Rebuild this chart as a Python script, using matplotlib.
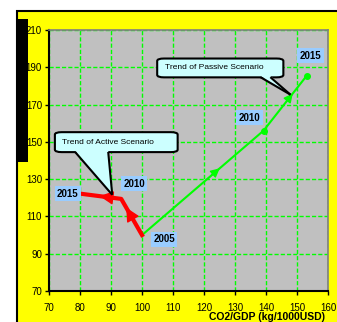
import matplotlib
matplotlib.use("Agg")
import matplotlib.pyplot as plt
from matplotlib.patches import Rectangle, FancyBboxPatch, Polygon

plt.rcParams['font.family'] = ['Liberation Sans', 'DejaVu Sans']

# ---- data ----
years = ['2005', '2010', '2015']
passive_x = [100, 139.2, 153.1]
passive_y = [100, 156.0, 185.4]
active_x = [100, 93.3, 80.6]
active_y = [100, 119.4, 122.1]
x_ticks = [70, 80, 90, 100, 110, 120, 130, 140, 150, 160]
y_ticks = [70, 90, 110, 130, 150, 170, 190, 210]
x_label = 'CO2/GDP (kg/1000USD)'
passive_text = 'Trend of Passive Scenario'
active_text = 'Trend of Active Scenario'

fig = plt.figure(figsize=(3.37, 3.22), dpi=100, facecolor='white')
# yellow frame with black border
fig.patches.append(Rectangle((17/337, -0.01), 1.0, (322-11)/322 + 0.01,
                             transform=fig.transFigure, facecolor='#FFFF00',
                             edgecolor='black', linewidth=1.5, zorder=-2))
# black bar on the left
fig.patches.append(Rectangle((17/337, (322-162)/322), 11/337, (162-19)/322,
                             transform=fig.transFigure, facecolor='black',
                             edgecolor='none', zorder=-1))

ax = fig.add_axes([49/337, 1-291/322, (328-49)/337, (291-30)/322])
ax.set_zorder(1)
ax.set_facecolor('#C0C0C0')
ax.set_xlim(70, 160)
ax.set_ylim(70, 210)
ax.set_xticks(x_ticks)
ax.set_yticks(y_ticks)
ax.tick_params(labelsize=7, length=3, width=1, pad=2, direction='out')
ax.tick_params(axis='x', pad=5.5)
for s in ['left', 'bottom']:
    ax.spines[s].set_linewidth(1.5)
for s in ['top', 'right']:
    ax.spines[s].set_color('#808080')
    ax.spines[s].set_linewidth(1.2)
ax.grid(True, color='#00FF00', linestyle=(0, (3, 1.5)), linewidth=1)
ax.set_axisbelow(True)

# passive (green)
ax.plot(passive_x, passive_y, color='#00FF00', linewidth=1.5, zorder=3)
ax.plot(passive_x[1:], passive_y[1:], 'o', color='#00FF00', markersize=4, zorder=3)
# active (red)
ax.plot(active_x, active_y, color='#FF0000', linewidth=3, zorder=4)


def seg_arrows(xs, ys, color, fracs, scale):
    for i in range(len(xs) - 1):
        f = fracs[i]
        x0, y0 = xs[i], ys[i]
        x1, y1 = xs[i + 1], ys[i + 1]
        tx, ty = x0 + (x1 - x0) * f, y0 + (y1 - y0) * f
        sx, sy = x0 + (x1 - x0) * (f - 0.1), y0 + (y1 - y0) * (f - 0.1)
        ax.annotate('', xy=(tx, ty), xytext=(sx, sy),
                    arrowprops=dict(arrowstyle='-|>,head_length=0.6,head_width=0.3',
                                    color=color, lw=1,
                                    mutation_scale=scale, shrinkA=0, shrinkB=0),
                    zorder=5)


seg_arrows(passive_x, passive_y, '#00FF00', [0.64, 0.68], 9)
seg_arrows(active_x, active_y, '#FF0000', [0.76, 0.55], 14)

label_bbox = dict(boxstyle='square,pad=0.25', facecolor='#99CCFF', edgecolor='none')
lbl = dict(fontsize=7, fontweight='bold', textcoords='offset pixels',
           ha='center', va='center', bbox=label_bbox, zorder=6)
ax.annotate(years[0], (passive_x[0], passive_y[0]), xytext=(22, -4), **lbl)
ax.annotate(years[1], (passive_x[1], passive_y[1]), xytext=(-14, 13), **lbl)
ax.annotate(years[2], (passive_x[2], passive_y[2]), xytext=(4, 20), **lbl)
ax.annotate(years[1], (active_x[1], active_y[1]), xytext=(13, 15), **lbl)
ax.annotate(years[2], (active_x[2], active_y[2]), xytext=(-14, 0), **lbl)


def callout(x0, y0, x1, y1, base_l, base_r, tip, text, tx):
    box = FancyBboxPatch((x0, y0), x1 - x0, y1 - y0,
                         boxstyle='round,pad=0,rounding_size=2.2',
                         mutation_aspect=0.6,
                         facecolor='#CCFFFF', edgecolor='black', linewidth=1.5,
                         zorder=7)
    ax.add_patch(box)
    inner = 0.8
    tri = Polygon([(base_l, y0 + inner), (base_r, y0 + inner), tip], closed=True,
                  facecolor='#CCFFFF', edgecolor='none', zorder=8)
    ax.add_patch(tri)
    ax.plot([base_l, tip[0]], [y0 + 0.1, tip[1]], color='black', lw=1.5, zorder=9,
            solid_capstyle='butt')
    ax.plot([base_r, tip[0]], [y0 + 0.1, tip[1]], color='black', lw=1.5, zorder=9,
            solid_capstyle='butt')
    ax.text(tx, (y0 + y1) / 2, text, fontsize=6, ha='left', va='center', zorder=10)


callout(104.9, 184.6, 145.6, 194.7, 138.2, 141.4, (147.9, 175.3), passive_text, 107.4)
callout(71.9, 144.5, 111.5, 155.2, 78.4, 89.1, (90.4, 121.6), active_text, 74.3)

fig.text(325/337, 1 - 316.5/322, x_label, fontsize=7.5, fontweight='bold',
         ha='right', va='center', zorder=2)

fig.savefig('out.png', dpi=100, facecolor=fig.get_facecolor())
